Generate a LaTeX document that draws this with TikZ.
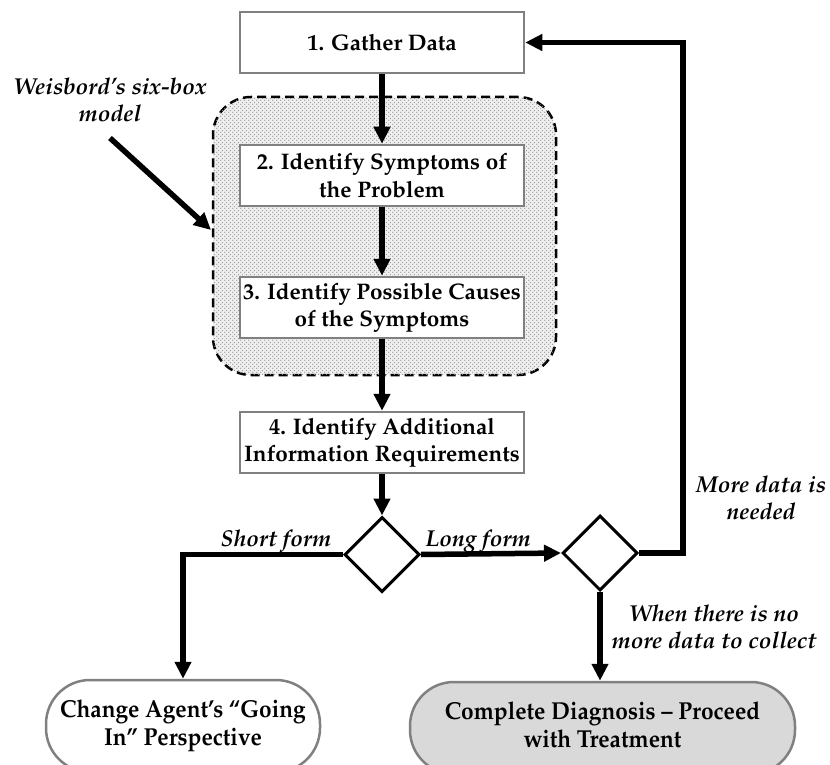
\documentclass[tikz,border=0pt]{standalone}
\usepackage[T1]{fontenc}
\usepackage{mathpazo}
\usepackage{graphicx}
\usetikzlibrary{arrows.meta,shapes.geometric,patterns}
\definecolor{boxgray}{HTML}{808080}
\definecolor{termfill}{HTML}{D9D9D9}
\pgfdeclarepatternformonly{mydots}{\pgfpointorigin}{\pgfpoint{4pt}{4pt}}{\pgfpoint{4pt}{4pt}}{%
  \pgfpathcircle{\pgfpoint{1pt}{1pt}}{0.8pt}%
  \pgfpathcircle{\pgfpoint{3pt}{3pt}}{0.8pt}%
  \pgfusepath{fill}}
\tikzset{
  stepbox/.style={draw=boxgray,line width=2.5pt,fill=white,minimum width=284pt,minimum height=61pt,inner sep=0pt,align=center,font=\fontsize{22.5}{27.5}\selectfont\bfseries},
  decision/.style={draw=black,line width=3pt,fill=white,diamond,aspect=1,minimum size=75pt,inner sep=0pt},
  flow/.style={line width=5.5pt,-{Triangle[length=17pt,width=16pt]}},
  term/.style={draw=boxgray,line width=2.5pt,rounded corners=44pt,minimum height=92pt,inner sep=0pt,align=center},
  lbl/.style={font=\fontsize{23}{27}\selectfont\bfseries\itshape,align=center,inner sep=0pt},
}
\begin{document}
\begin{tikzpicture}[x=1pt,y=-1pt]
\useasboundingbox (0,0) rectangle (830,765);
% group region
\node[draw=black,dashed,dash pattern=on 9pt off 5pt,line width=2.5pt,rounded corners=38pt,
  minimum width=343pt,minimum height=278pt,inner sep=0pt,
  fill=gray!12,postaction={pattern=mydots,pattern color=gray!85}] (grp) at (384.5,236) {};
% boxes
\node[stepbox] (b1) at (382,42.5) {1. Gather Data};
\node[stepbox] (b2) at (382,175.5) {2. Identify Symptoms of\\the Problem};
\node[stepbox] (b3) at (382,307.5) {3. Identify Possible Causes\\of the Symptoms};
\node[stepbox] (b4) at (382,442.5) {4. Identify Additional\\Information Requirements};
% decisions
\node[decision] (d1) at (382,554.5) {};
\node[decision] (d2) at (600,553) {};
% terminals
\node[term,fill=white,minimum width=274pt] (t1) at (183,726)
  {\scalebox{0.925}[1]{\fontsize{24.5}{28.5}\selectfont\bfseries\begin{tabular}{@{}c@{}}Change Agent's ``Going\\In'' Perspective\end{tabular}}};
\node[term,fill=termfill,minimum width=385pt] (t2) at (602.5,728)
  {\scalebox{0.925}[1]{\fontsize{24.5}{28.5}\selectfont\bfseries\begin{tabular}{@{}c@{}}Complete Diagnosis -- Proceed\\with Treatment\end{tabular}}};
% labels
\node[lbl] (wl) at (110,100) {Weisbord's six-box\\model};
\coordinate (wstart) at (110,138);
\coordinate (wend) at (211,230);
\node[lbl] (sf) at (276,541) {Short form};
\node[lbl] (lf) at (478,541) {Long form};
\node[lbl] (md) at (761,498) {More data is\\needed};
\node[lbl] (nd) at (714,627) {When there is no\\more data to collect};
% connectors
\draw[flow] (b1.south) -- (b2.north);
\draw[flow] (b2.south) -- (b3.north);
\draw[flow] (b3.south) -- (b4.north);
\draw[flow] (b4.south) -- (d1.north);
\draw[flow] (d1.east) -- (d2.west);
\draw[flow] (d1.west) -- (183,554.5) -- (t1.north);
\draw[flow] (d2.south) -- (t2.north -| d2.south);
\draw[flow] (d2.east) -- (683,553) -- (683,42.5) -- (b1.east);
\draw[flow] (wstart) -- (wend);
\end{tikzpicture}
\end{document}
